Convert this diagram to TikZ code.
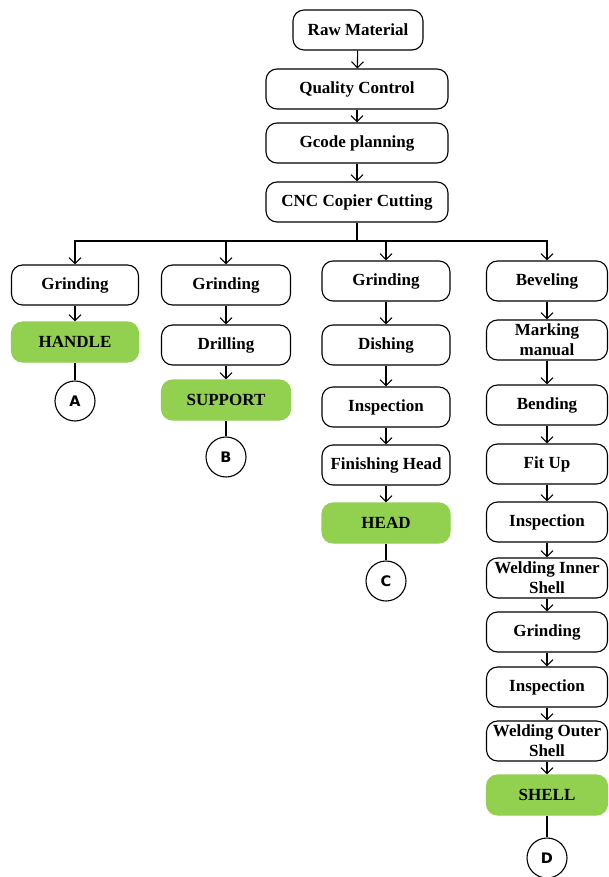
\documentclass[tikz,border=0pt]{standalone}
\usepackage{fontspec}
\setmainfont{Liberation Serif}
\newfontfamily\circfont{DejaVu Sans}
\usetikzlibrary{arrows.meta}
\definecolor{prodgreen}{RGB}{146,208,80}
\begin{document}
\begin{tikzpicture}[x=1pt,y=-1pt,
  stepbox/.style={draw, line width=1.1pt, rounded corners=11pt, minimum height=40pt,
    inner sep=0pt, align=center, font=\fontsize{17}{20}\selectfont\bfseries},
  prodbox/.style={stepbox, draw=prodgreen, fill=prodgreen},
  endmark/.style={draw, circle, line width=1.1pt, minimum size=40pt, inner sep=0pt,
    font=\circfont\fontsize{14.5}{16}\selectfont\bfseries},
  flow/.style={line width=1.1pt, -{Straight Barb[length=6pt,width=12pt,line width=1.1pt]}},
  link/.style={line width=1.1pt}]
\useasboundingbox (0,0) rectangle (608,877);

% main trunk
\node[stepbox, minimum width=130pt] (raw) at (358,30) {Raw Material};
\node[stepbox, minimum width=182pt] (qc)  at (357,89) {Quality Control};
\node[stepbox, minimum width=182pt] (gc)  at (357,143) {Gcode planning};
\node[stepbox, minimum width=182pt] (cnc) at (357,202) {CNC Copier Cutting};
\draw[flow] (raw) -- (qc);
\draw[flow] (qc) -- (gc);
\draw[flow] (gc) -- (cnc);
\coordinate (split) at (357,241);
\draw[link] (cnc) -- (split);

% handle line
\node[stepbox, minimum width=127pt] (h1) at (75,285) {Grinding};
\node[prodbox, minimum width=127pt] (h2) at (75,342) {HANDLE};
\node[endmark] (ca) at (75,401) {A};
\draw[flow] (split) -| (h1.north);
\draw[flow] (h1) -- (h2);
\draw[link] (h2) -- (ca);

% support line
\node[stepbox, minimum width=129pt] (s1) at (226,285) {Grinding};
\node[stepbox, minimum width=129pt] (s2) at (226,345) {Drilling};
\node[prodbox, minimum width=129pt] (s3) at (226,400) {SUPPORT};
\node[endmark] (cb) at (226,457) {B};
\draw[flow] (split) -| (s1.north);
\draw[flow] (s1) -- (s2);
\draw[flow] (s2) -- (s3);
\draw[link] (s3) -- (cb);

% head line
\node[stepbox, minimum width=128pt] (d1) at (386,281) {Grinding};
\node[stepbox, minimum width=128pt] (d2) at (386,345) {Dishing};
\node[stepbox, minimum width=128pt] (d3) at (386,407) {Inspection};
\node[stepbox, minimum width=128pt] (d4) at (386,465) {Finishing Head};
\node[prodbox, minimum width=128pt] (d5) at (386,523) {HEAD};
\node[endmark] (cc) at (386,581) {C};
\draw[flow] (split) -| (d1.north);
\draw[flow] (d1) -- (d2);
\draw[flow] (d2) -- (d3);
\draw[flow] (d3) -- (d4);
\draw[flow] (d4) -- (d5);
\draw[link] (d5) -- (cc);

% shell line
\node[stepbox, minimum width=121pt] (e1)  at (547,281) {Beveling};
\node[stepbox, minimum width=121pt] (e2)  at (547,340) {Marking\\manual};
\node[stepbox, minimum width=121pt] (e3)  at (547,405) {Bending};
\node[stepbox, minimum width=121pt] (e4)  at (547,464) {Fit Up};
\node[stepbox, minimum width=121pt] (e5)  at (547,522) {Inspection};
\node[stepbox, minimum width=121pt] (e6)  at (547,578) {Welding Inner\\Shell};
\node[stepbox, minimum width=121pt] (e7)  at (547,632) {Grinding};
\node[stepbox, minimum width=121pt] (e8)  at (547,687) {Inspection};
\node[stepbox, minimum width=121pt] (e9)  at (547,741) {Welding Outer\\Shell};
\node[prodbox, minimum width=121pt] (e10) at (547,795) {SHELL};
\node[endmark] (cd) at (547,858) {D};
\draw[flow] (split) -| (e1.north);
\foreach \a/\b in {e1/e2,e2/e3,e3/e4,e4/e5,e5/e6,e6/e7,e7/e8,e8/e9,e9/e10}
  \draw[flow] (\a) -- (\b);
\draw[link] (e10) -- (cd);
\end{tikzpicture}
\end{document}
